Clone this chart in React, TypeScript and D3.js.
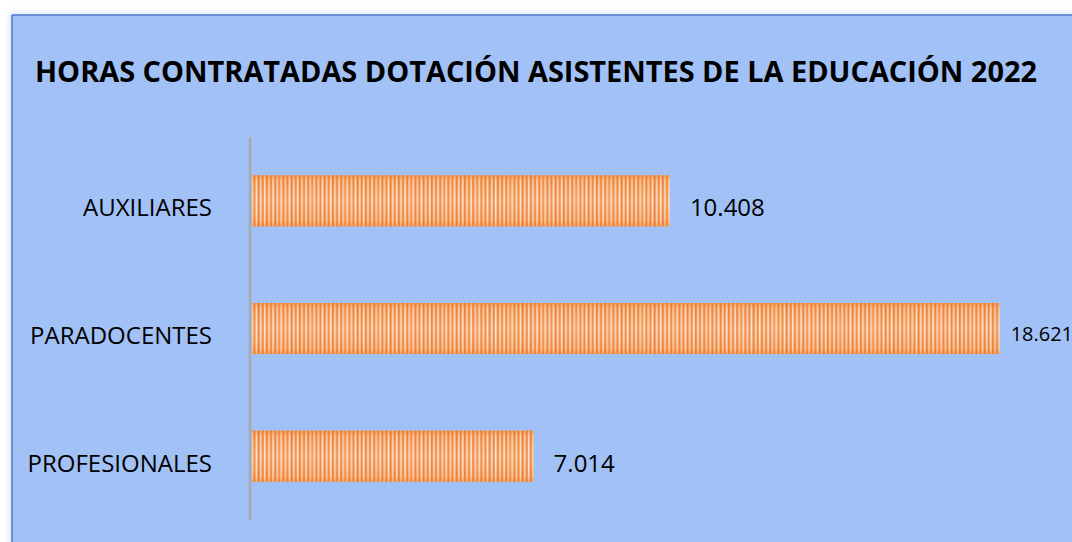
import React from 'react';
import * as d3 from 'd3';

// data
const categories = ['AUXILIARES', 'PARADOCENTES', 'PROFESIONALES'];
const horas = [10408, 18621, 7014];
const valueLabels = ['10.408', '18.621', '7.014'];
const title = 'HORAS CONTRATADAS DOTACIÓN ASISTENTES DE LA EDUCACIÓN 2022';

const W = 1072;
const H = 542;
const FONT = '"Open Sans", "Noto Sans", sans-serif';

// stripe texture for the bars (offset, width, colour)
const stripes: [number, number, string][] = [
  [0, 1.5, '#fde6d2'],
  [2.2, 1.2, '#ec7c2c'],
  [4.0, 1.8, '#fbcfa8'],
  [6.6, 1.1, '#ed8534'],
  [8.4, 1.4, '#fff1e4'],
  [10.6, 1.2, '#ea7a2a'],
  [12.4, 1.6, '#fcd9ba'],
  [14.8, 0.9, '#ee883a'],
];

export default function App() {
  const margin = {left: 252, right: 17, top: 137, bottom: 22};

  const x = d3
    .scaleLinear()
    .domain([0, 20000])
    .range([margin.left, W - margin.right]);

  const y = d3
    .scaleBand<string>()
    .domain(categories)
    .range([margin.top, H - margin.bottom])
    .paddingInner(0.6)
    .paddingOuter(0.3);

  const bw = y.bandwidth();

  return (
    <svg
      width={W}
      height={H}
      viewBox={`0 0 ${W} ${H}`}
      style={{position: 'absolute', left: 0, top: 0, background: '#fff'}}
    >
      <defs>
        <pattern id="stripes" patternUnits="userSpaceOnUse" width={16.5} height={10}>
          <rect width={16.5} height={10} fill="#f59a5c" />
          {stripes.map(([o, w, c], i) => (
            <rect key={i} x={o} y={0} width={w} height={10} fill={c} />
          ))}
        </pattern>
        <linearGradient id="shade" x1="0" y1="0" x2="0" y2="1">
          <stop offset="0" stopColor="#ec7a28" stopOpacity={0.6} />
          <stop offset="0.1" stopColor="#ec7a28" stopOpacity={0.15} />
          <stop offset="0.5" stopColor="#ffffff" stopOpacity={0.1} />
          <stop offset="0.9" stopColor="#ec7a28" stopOpacity={0.15} />
          <stop offset="1" stopColor="#ec7a28" stopOpacity={0.55} />
        </linearGradient>
        <filter id="soft" x="-5%" y="-5%" width="110%" height="110%">
          <feGaussianBlur stdDeviation="3" />
        </filter>
      </defs>

      {/* chart area */}
      <rect x={9} y={12} width={W} height={H} fill="#c8d8f0" filter="url(#soft)" opacity={0.6} />
      <rect x={12} y={15} width={W} height={H} fill="#a2c1f6" />
      <line x1={12} y1={15} x2={W} y2={15} stroke="#4a7bd0" strokeWidth={1.5} />
      <line x1={12} y1={15} x2={12} y2={H} stroke="#4a7bd0" strokeWidth={1.5} />

      <text
        x={35}
        y={82}
        fontFamily={FONT}
        fontWeight={700}
        fontSize={28.5}
        textLength={1002}
        lengthAdjust="spacingAndGlyphs"
        fill="#000"
      >
        {title}
      </text>

      {categories.map((c, i) => {
        const y0 = y(c) as number;
        return (
          <g key={c}>
            <rect x={x(0)} y={y0} width={x(horas[i]) - x(0)} height={bw} fill="url(#stripes)" />
            <rect x={x(0)} y={y0} width={x(horas[i]) - x(0)} height={bw} fill="url(#shade)" />
            <text
              x={212}
              y={y0 + bw / 2 + 9}
              textAnchor="end"
              dominantBaseline="middle"
              fontFamily={FONT}
              fontSize={24}
              fill="#000"
            >
              {c}
            </text>
            <text
              x={x(horas[i]) + (i === 1 ? 11 : 20)}
              y={y0 + bw / 2 + (i === 1 ? 7 : 9)}
              dominantBaseline="middle"
              fontFamily={FONT}
              fontSize={i === 1 ? 20 : 24}
              fill="#000"
            >
              {valueLabels[i]}
            </text>
          </g>
        );
      })}

      <line
        x1={x(0) - 2}
        x2={x(0) - 2}
        y1={margin.top}
        y2={H - margin.bottom}
        stroke="#a9a9a9"
        strokeWidth={2.5}
      />
    </svg>
  );
}
